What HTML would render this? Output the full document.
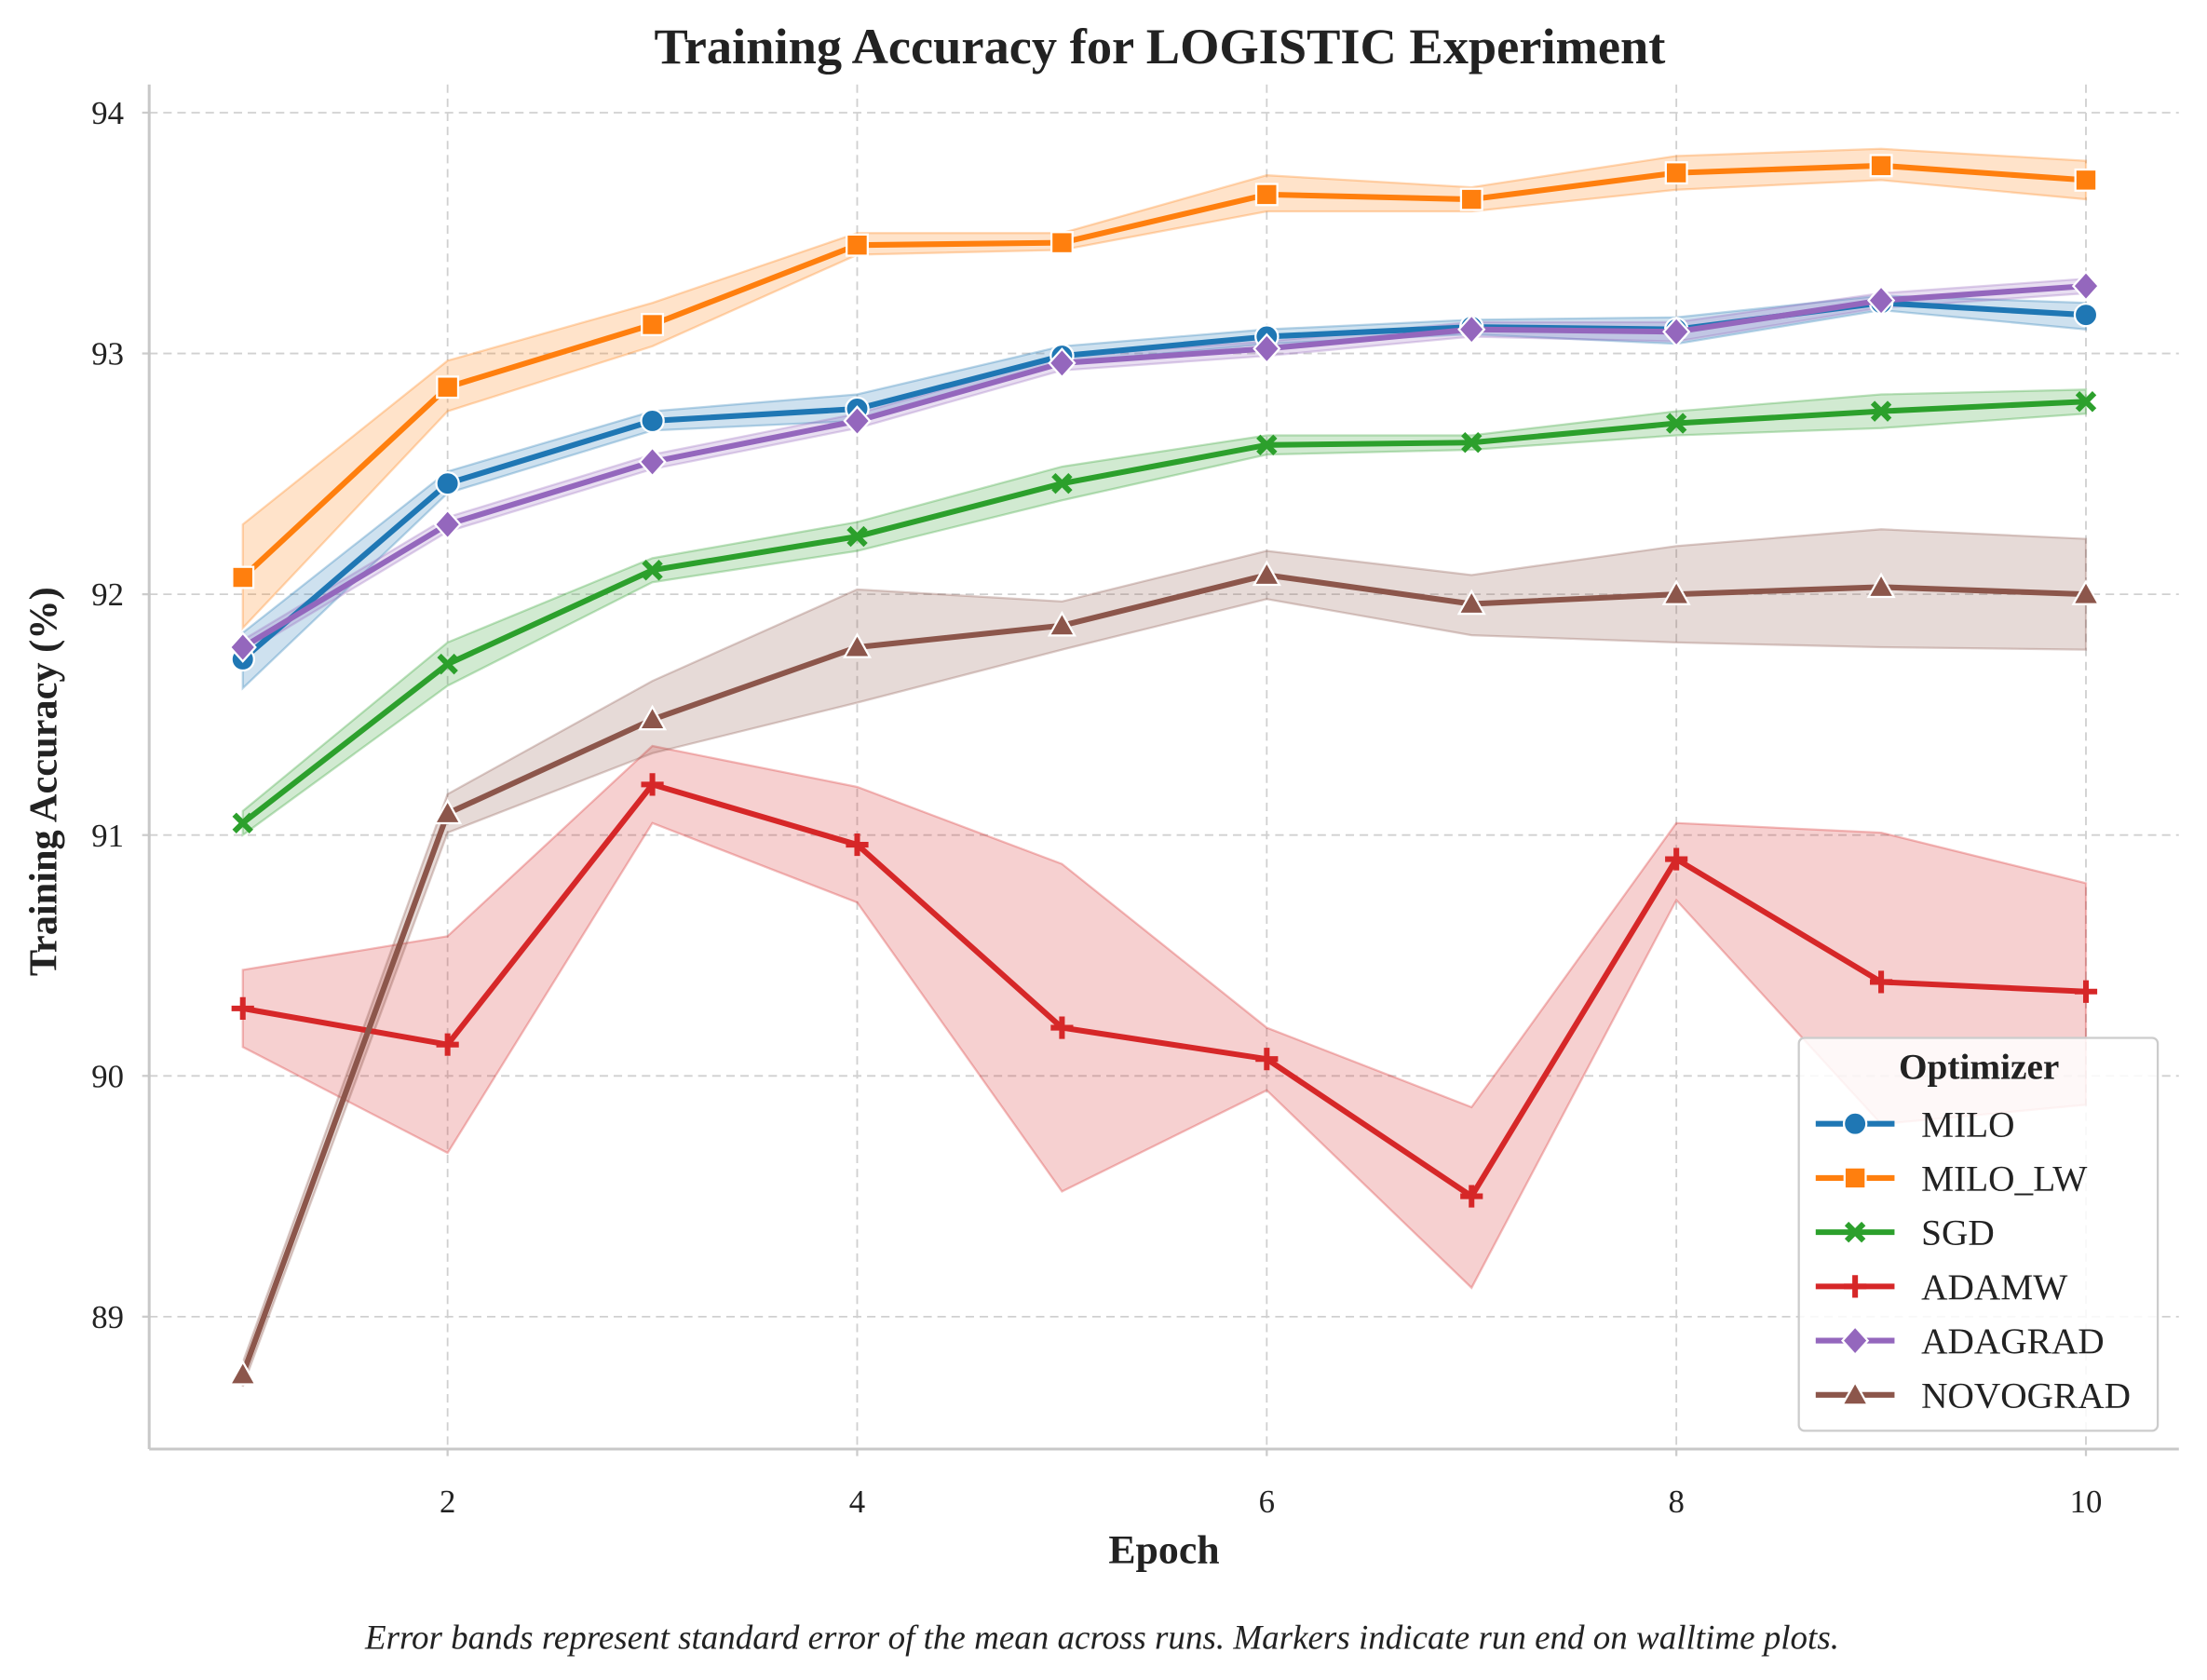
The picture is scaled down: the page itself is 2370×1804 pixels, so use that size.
<!DOCTYPE html>
<html><head><meta charset="utf-8"><style>
html,body{margin:0;padding:0;background:#fff}
svg{display:block;font-family:"Liberation Serif",serif}
</style></head><body>
<svg id="chart" width="2370" height="1804" viewBox="0 0 1568 1193" preserveAspectRatio="none" xmlns="http://www.w3.org/2000/svg">
<g id="grid"></g>
<g id="bands"></g>
<g id="lines"></g>
<g id="axes"></g>
<text x="824" y="45" text-anchor="middle" font-size="36" font-weight="bold" fill="#222">Training Accuracy for LOGISTIC Experiment</text>
<text x="827" y="1110" text-anchor="middle" font-size="29" font-weight="bold" fill="#222">Epoch</text>
<text transform="translate(40,555) rotate(-90)" text-anchor="middle" font-size="28" font-weight="bold" fill="#222">Training Accuracy (%)</text>
<text x="783" y="1171" text-anchor="middle" font-size="24.5" font-style="italic" fill="#222">Error bands represent standard error of the mean across runs. Markers indicate run end on walltime plots.</text>
<g id="legend"></g>
</svg>
<script>
const epochs=[1,2,3,4,5,6,7,8,9,10];
const seriesNames=["MILO","MILO_LW","SGD","ADAMW","ADAGRAD","NOVOGRAD"];
const miloVals=[91.73,92.46,92.72,92.77,92.99,93.07,93.11,93.10,93.21,93.16];
const miloLo=[91.61,92.42,92.68,92.72,92.96,93.04,93.08,93.04,93.18,93.10];
const miloHi=[91.84,92.51,92.76,92.83,93.03,93.10,93.14,93.15,93.24,93.21];
const milolwVals=[92.07,92.86,93.12,93.45,93.46,93.66,93.64,93.75,93.78,93.72];
const milolwLo=[91.86,92.76,93.03,93.41,93.43,93.59,93.59,93.68,93.72,93.64];
const milolwHi=[92.29,92.97,93.21,93.50,93.50,93.74,93.69,93.82,93.85,93.80];
const sgdVals=[91.05,91.71,92.10,92.24,92.46,92.62,92.63,92.71,92.76,92.80];
const sgdLo=[91.00,91.62,92.05,92.18,92.39,92.58,92.60,92.66,92.69,92.75];
const sgdHi=[91.10,91.80,92.15,92.30,92.53,92.66,92.66,92.76,92.83,92.85];
const adamwVals=[90.28,90.13,91.21,90.96,90.20,90.07,89.50,90.90,90.39,90.35];
const adamwLo=[90.12,89.68,91.05,90.72,89.52,89.94,89.12,90.73,89.80,89.88];
const adamwHi=[90.44,90.58,91.37,91.20,90.88,90.20,89.87,91.05,91.01,90.80];
const adagradVals=[91.78,92.29,92.55,92.72,92.96,93.02,93.10,93.09,93.22,93.28];
const adagradLo=[91.75,92.26,92.52,92.69,92.93,92.99,93.07,93.05,93.19,93.25];
const adagradHi=[91.81,92.32,92.58,92.75,92.99,93.05,93.13,93.13,93.25,93.31];
const novoVals=[88.76,91.09,91.48,91.78,91.87,92.08,91.96,92.00,92.03,92.00];
const novoLo=[88.71,91.01,91.34,91.55,91.77,91.98,91.83,91.80,91.78,91.77];
const novoHi=[88.81,91.17,91.64,92.02,91.97,92.18,92.08,92.20,92.27,92.23];
const yTicks=[89,90,91,92,93,94];
const xTicks=[2,4,6,8,10];

const NS="http://www.w3.org/2000/svg";
const X0=106,X1=1548,Y0=1029;
const xs=e=>172.5+(e-1)*145.5;
const ys=v=>80+(94-v)*171;
function mk(tag,attrs,parent){const el=document.createElementNS(NS,tag);for(const k in attrs)el.setAttribute(k,attrs[k]);parent.appendChild(el);return el;}
const grid=document.getElementById('grid'),axes=document.getElementById('axes'),bands=document.getElementById('bands'),lines=document.getElementById('lines'),legend=document.getElementById('legend');
yTicks.forEach(t=>{
  const l=mk('line',{x1:X0,x2:X1,y1:ys(t),y2:ys(t),stroke:'#d0d0d0','stroke-width':1.2,'stroke-dasharray':'6,4'},grid);
  
  
  const tx=mk('text',{x:88,y:ys(t)+8,'text-anchor':'end','font-size':23,fill:'#222'},axes);
  tx.textContent=t;
  
  
  mk('line',{x1:X0-5,x2:X0,y1:ys(t),y2:ys(t),stroke:'#ccc','stroke-width':1.5},axes);
});
xTicks.forEach(t=>{
  const l=mk('line',{x1:xs(t),x2:xs(t),y1:60,y2:Y0,stroke:'#d0d0d0','stroke-width':1.2,'stroke-dasharray':'6,4'},grid);
  
  
  const tx=mk('text',{x:xs(t),y:1074,'text-anchor':'middle','font-size':23,fill:'#222'},axes);
  tx.textContent=t;
  
  
  mk('line',{x1:xs(t),x2:xs(t),y1:Y0,y2:Y0+5,stroke:'#ccc','stroke-width':1.5},axes);
});
const sp1=mk('line',{x1:X0,x2:X0,y1:60,y2:Y0,stroke:'#c8c8c8','stroke-width':2},axes);


const sp2=mk('line',{x1:X0,x2:X1,y1:Y0,y2:Y0,stroke:'#c8c8c8','stroke-width':2},axes);



const series=[
 {name:'MILO',vals:miloVals,lo:miloLo,hi:miloHi,c:'#1f77b4',m:'circle'},
 {name:'MILO_LW',vals:milolwVals,lo:milolwLo,hi:milolwHi,c:'#ff7f0e',m:'square'},
 {name:'SGD',vals:sgdVals,lo:sgdLo,hi:sgdHi,c:'#2ca02c',m:'x'},
 {name:'ADAMW',vals:adamwVals,lo:adamwLo,hi:adamwHi,c:'#d62728',m:'plus'},
 {name:'ADAGRAD',vals:adagradVals,lo:adagradLo,hi:adagradHi,c:'#9467bd',m:'diamond'},
 {name:'NOVOGRAD',vals:novoVals,lo:novoLo,hi:novoHi,c:'#8c564b',m:'triangle'}];
function marker(type,x,y,c,parent,s){
  s=s||1;let el;
  if(type==='circle')el=mk('circle',{cx:x,cy:y,r:8*s,fill:c,stroke:'#fff','stroke-width':1.5},parent);
  else if(type==='square')el=mk('rect',{x:x-7.5*s,y:y-7.5*s,width:15*s,height:15*s,fill:c,stroke:'#fff','stroke-width':1.5},parent);
  else if(type==='diamond')el=mk('polygon',{points:`${x},${y-10*s} ${x+9*s},${y} ${x},${y+10*s} ${x-9*s},${y}`,fill:c,stroke:'#fff','stroke-width':1.5},parent);
  else if(type==='triangle')el=mk('polygon',{points:`${x},${y-9*s} ${x+9*s},${y+7*s} ${x-9*s},${y+7*s}`,fill:c,stroke:'#fff','stroke-width':1.5},parent);
  else if(type==='plus'){el=mk('path',{d:`M${x-8*s},${y}H${x+8*s}M${x},${y-8*s}V${y+8*s}`,stroke:c,'stroke-width':4*s,fill:'none'},parent);}
  else {el=mk('path',{d:`M${x-6*s},${y-6*s}L${x+6*s},${y+6*s}M${x+6*s},${y-6*s}L${x-6*s},${y+6*s}`,stroke:c,'stroke-width':4*s,fill:'none'},parent);}
  return el;
}
series.forEach(s=>{
  let d='M'+epochs.map((e,i)=>xs(e)+','+ys(s.hi[i])).join('L');
  d+='L'+epochs.slice().reverse().map((e,j)=>{const i=epochs.length-1-j;return xs(e)+','+ys(s.lo[i]);}).join('L')+'Z';
  const b=mk('path',{d:d,fill:s.c,'fill-opacity':0.22,stroke:s.c,'stroke-opacity':0.3,'stroke-width':1.5},bands);
  
  
});
series.forEach(s=>{
  const g=mk('g',{},lines);
  
  
  const p=mk('polyline',{points:epochs.map((e,i)=>xs(e)+','+ys(s.vals[i])).join(' '),fill:'none',stroke:s.c,'stroke-width':4,'stroke-linejoin':'round'},g);
  
  
  epochs.forEach((e,i)=>{
    const m=marker(s.m,xs(e),ys(s.vals[i]),s.c,g);
    
    
  });
});
const box=mk('rect',{x:1278,y:737,width:255,height:279,rx:4,fill:'#fff','fill-opacity':0.85,stroke:'#ccc','stroke-width':1.5},legend);


const lt=mk('text',{x:1406,y:766,'text-anchor':'middle','font-size':26,'font-weight':'bold',fill:'#222'},legend);
lt.textContent='Optimizer';


series.forEach((s,i)=>{
  const y=798+i*38.5;
  const g=mk('g',{},legend);
  
  
  mk('line',{x1:1290,x2:1346,y1:y,y2:y,stroke:s.c,'stroke-width':4},g);
  marker(s.m,1318,y,s.c,g);
  const t=mk('text',{x:1365,y:y+9,'font-size':26,fill:'#222'},g);
  t.textContent=s.name;
});
</script>
</body></html>
